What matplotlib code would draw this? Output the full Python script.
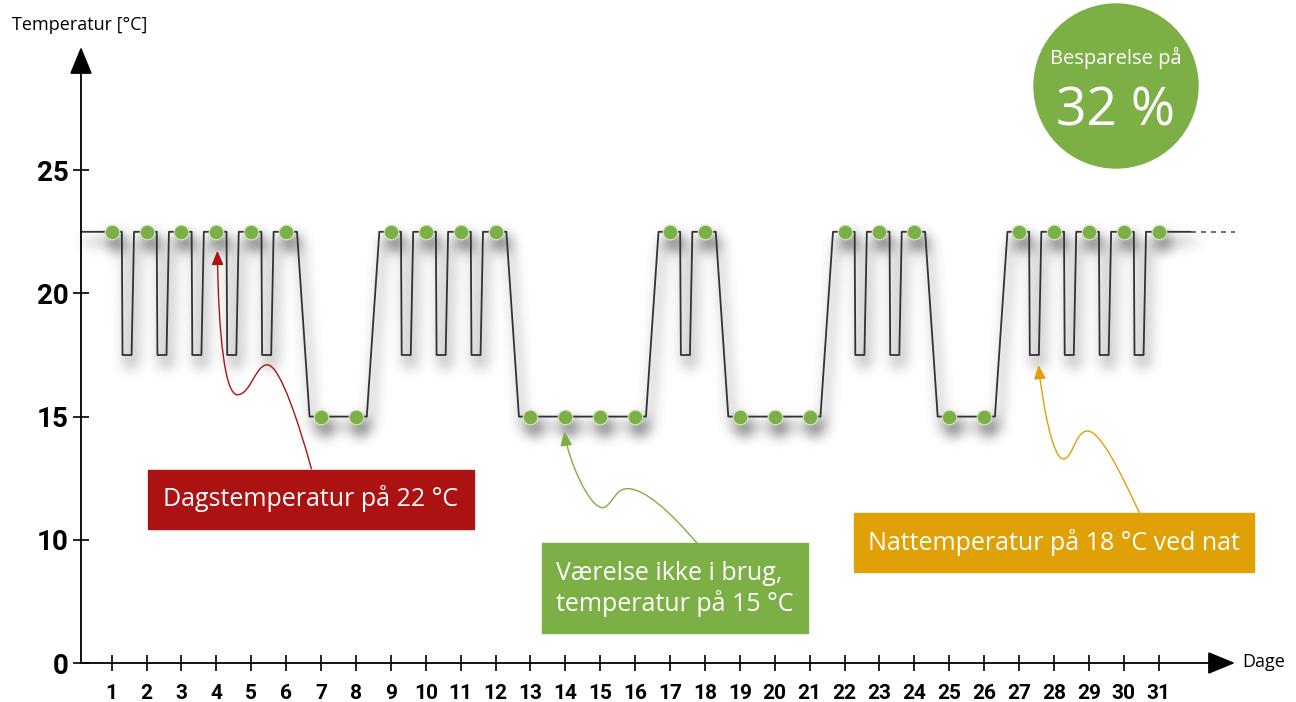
import numpy as np
import matplotlib
matplotlib.use("Agg")
import matplotlib.pyplot as plt
from matplotlib.patches import FancyArrowPatch, Rectangle, Circle
from matplotlib.path import Path

#####################################################
############### Data #############
#####################################################
days = list(range(1, 32))
day_temp = [22.5, 22.5, 22.5, 22.5, 22.5, 22.5, 15, 15,
            22.5, 22.5, 22.5, 22.5, 15, 15, 15, 15,
            22.5, 22.5, 15, 15, 15, 22.5, 22.5, 22.5,
            15, 15, 22.5, 22.5, 22.5, 22.5, 22.5]
dip_nights = [1, 2, 3, 4, 5, 9, 10, 11, 17, 22, 23, 27, 28, 29, 30]
night_temp = 17.5

y_ticks = [5, 10, 15, 20, 25]
y_labels = ["0", "10", "15", "20", "25"]

RED = "#ad1212"
GREEN = "#7cb046"
ORANGE = "#e0a106"
TXT_FONT = ["Open Sans", "DejaVu Sans"]
NUM_FONT = ["Roboto", "DejaVu Sans"]

W, H = 1296, 702
x0, x1 = 0.12, 33.19
AX_POS = [81 / W, (H - 663) / H, (1235 - 81) / W, (663 - 47) / H]

# build the temperature profile from the day schedule
xs, ys = [x0], [day_temp[0]]
for i, d in enumerate(days):
    t = day_temp[i]
    xs.append(d); ys.append(t)
    if i == len(days) - 1:
        break
    t_next = day_temp[i + 1]
    if t_next != t:
        xs += [d + 0.31, d + 0.67]; ys += [t, t_next]
    elif d in dip_nights:
        xs += [d + 0.29, d + 0.31, d + 0.57, d + 0.64]
        ys += [t, night_temp, night_temp, t]
xs.append(31.92); ys.append(day_temp[-1])

#####################################################
############### Blurred drop shadow #################
#####################################################
tmp = plt.figure(figsize=(W / 100, H / 100), dpi=100, facecolor="white")
tax = tmp.add_axes(AX_POS)
tax.set_xlim(x0, x1); tax.set_ylim(5, 30); tax.axis("off")
tax.plot(xs, ys, color="k", lw=2, clip_on=False)
tax.plot(days, day_temp, "o", ms=12, color="k", mew=0, clip_on=False)
tmp.canvas.draw()
mask = 1 - np.asarray(tmp.canvas.buffer_rgba())[..., 0].astype(float) / 255
plt.close(tmp)

sigma = 6.5
k = np.arange(-22, 23)
kern = np.exp(-k ** 2 / (2 * sigma ** 2)); kern /= kern.sum()
blur = np.apply_along_axis(lambda r: np.convolve(r, kern, mode="same"), 1, mask)
blur = np.apply_along_axis(lambda c: np.convolve(c, kern, mode="same"), 0, blur)
shadow = np.zeros((H, W, 4))
shadow[..., 3] = np.clip(blur * 0.6, 0, 1)

#####################################################
############### Figure ##############################
#####################################################
fig = plt.figure(figsize=(W / 100, H / 100), dpi=100)
bg = fig.add_axes([0, 0, 1, 1])
bg.set_xlim(0, W); bg.set_ylim(H, 0); bg.axis("off")
dx, dy = 4, 10
bg.imshow(shadow, extent=(dx, W + dx, H + dy, dy), interpolation="bilinear", aspect="auto")
bg.set_xlim(0, W); bg.set_ylim(H, 0)

ax = fig.add_axes(AX_POS)
ax.set_xlim(x0, x1)
ax.set_ylim(5, 30)
for s in ax.spines.values():
    s.set_visible(False)
ax.patch.set_visible(False)

ax.plot(xs, ys, color="#333333", lw=1.3, clip_on=False, zorder=3)
ax.plot([31.92, x1], [day_temp[-1]] * 2, color="#555555", lw=1.2,
        ls=(0, (3, 3)), clip_on=False, zorder=3)
ax.plot(days, day_temp, "o", ms=10.5, color=GREEN, mec="#d5e6c2", mew=0.8,
        clip_on=False, zorder=4)

# axes with arrow heads
for a, b in [((0, 0), (1, 0)), ((0, 0), (0, 1))]:
    ax.add_patch(FancyArrowPatch(a, b, transform=ax.transAxes,
                                 arrowstyle="-|>,head_length=17,head_width=7",
                                 mutation_scale=1, shrinkA=0, shrinkB=0,
                                 color="k", lw=1.3, clip_on=False, zorder=5))

ax.set_xticks(days)
ax.set_xticklabels([str(d) for d in days])
ax.set_yticks(y_ticks)
ax.set_yticklabels(y_labels)
ax.tick_params(axis="both", direction="inout", length=12, width=1.2, color="k")
ax.tick_params(axis="x", pad=9)
ax.tick_params(axis="y", pad=3)
for lab in ax.get_xticklabels():
    lab.set_fontfamily(NUM_FONT); lab.set_fontweight("bold"); lab.set_fontsize(15)
for lab in ax.get_yticklabels():
    lab.set_fontfamily(NUM_FONT); lab.set_fontweight("bold"); lab.set_fontsize(20)

#####################################################
############### Overlay: labels, boxes, notes #######
#####################################################
ov = fig.add_axes([0, 0, 1, 1])
ov.set_xlim(0, W)
ov.set_ylim(H, 0)
ov.axis("off")
ov.patch.set_visible(False)

ov.text(12, 25, "Temperatur [°C]", fontsize=13, family=TXT_FONT, va="center", ha="left")
ov.text(1242, 662, "Dage", fontsize=13, family=TXT_FONT, va="center", ha="left")

def to_px(x, y):
    disp = ax.transData.transform((x, y))
    return ov.transData.inverted().transform(disp)

def curly_arrow(target, offset, rel, color):
    tx, ty = to_px(*target)
    tx += offset[0]; ty += offset[1]
    verts = [(tx + ddx, ty + ddy) for ddx, ddy in rel]
    codes = [Path.MOVETO] + [Path.CURVE4] * (len(verts) - 1)
    ov.add_patch(FancyArrowPatch(path=Path(verts, codes), color=color, lw=1.0,
                                 arrowstyle="-|>,head_length=8.5,head_width=3.6",
                                 mutation_scale=1, zorder=6))

curly_arrow((4, 22.5), (1, 19),
            [(94, 218), (83, 178), (63, 114), (50, 114), (38, 114), (33, 144),
             (20, 144), (8, 144), (1, 88), (0, 0)], RED)
curly_arrow((14, 15), (-1, 15),
            [(133, 112), (105, 79), (80, 57), (63, 57), (50, 57), (47, 76),
             (38, 76), (25, 76), (4, 29), (0, 0)], GREEN)
curly_arrow((27.5, 17.5), (2, 10),
            [(102, 150), (82, 107), (62, 66), (49, 66), (37, 66), (34, 94),
             (25, 94), (14, 94), (4, 37), (0, 0)], ORANGE)

ov.add_patch(Rectangle((148, 470), 326, 59, color=RED, zorder=7))
ov.text(311, 499, "Dagstemperatur på 22 °C", color="white", fontsize=18,
        family=TXT_FONT, ha="center", va="center", zorder=8)

ov.add_patch(Rectangle((542, 543), 266, 90, color=GREEN, zorder=7))
ov.text(556, 589, "Værelse ikke i brug,\ntemperatur på 15 °C", color="white",
        fontsize=18, family=TXT_FONT, ha="left", va="center", linespacing=1.2, zorder=8)

ov.add_patch(Rectangle((854, 513), 400, 59, color=ORANGE, zorder=7))
ov.text(1054, 542, "Nattemperatur på 18 °C ved nat", color="white", fontsize=18,
        family=TXT_FONT, ha="center", va="center", zorder=8)

ov.add_patch(Circle((1116, 86), 82, color=GREEN, zorder=7))
ov.text(1116, 58, "Besparelse på", color="white", fontsize=14.5, family=TXT_FONT,
        ha="center", va="center", zorder=8)
ov.text(1116, 112, "32 %", color="white", fontsize=38.5, family=TXT_FONT,
        ha="center", va="center", zorder=8)

fig.savefig("out.png", dpi=100)
